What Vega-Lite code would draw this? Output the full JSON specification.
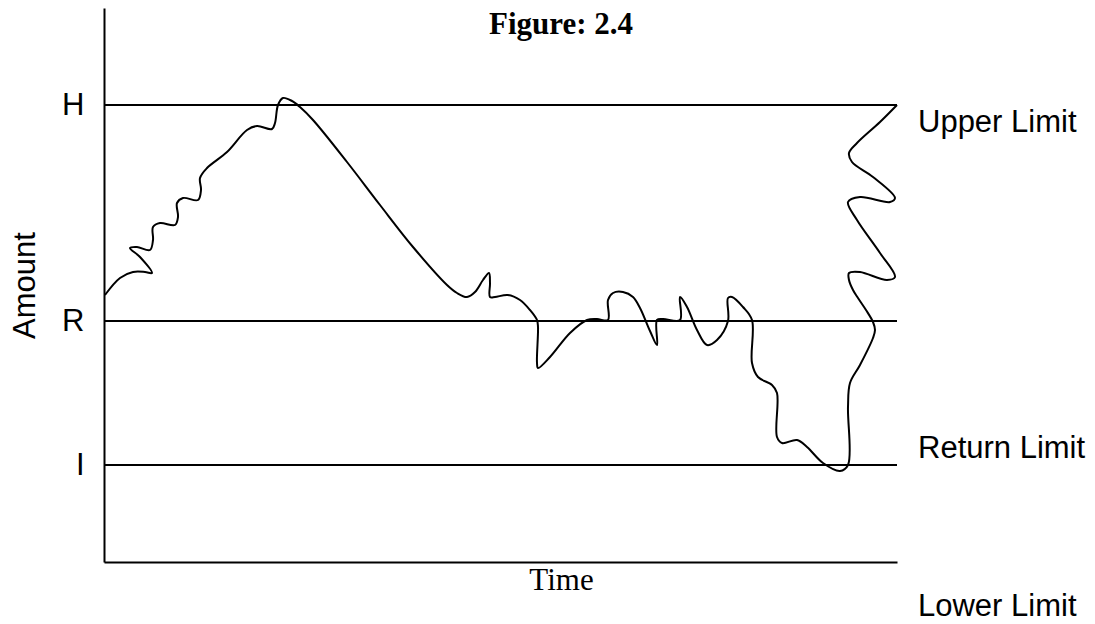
{
  "$schema": "https://vega.github.io/schema/vega-lite/v6.json",
  "width": 793,
  "height": 554,
  "autosize": {"type": "none"},
  "padding": {"left": 104, "top": 8, "right": 198, "bottom": 62},
  "background": "white",
  "config": {
    "view": {"stroke": null},
    "axis": {"domainColor": "black", "domainWidth": 2, "ticks": false, "tickSize": 0, "grid": false, "labelColor": "black", "titleColor": "black"}
  },
  "datasets": {
    "levels": [
      {"level": "H", "amount": 457},
      {"level": "R", "amount": 241},
      {"level": "I", "amount": 97}
    ],
    "curve": [
      {"step": 1, "time": 1, "amount": 267},
      {"step": 2, "time": 16, "amount": 284},
      {"step": 3, "time": 29, "amount": 290},
      {"step": 4, "time": 41, "amount": 290},
      {"step": 5, "time": 48, "amount": 289},
      {"step": 6, "time": 36, "amount": 305},
      {"step": 7, "time": 26, "amount": 314},
      {"step": 8, "time": 33, "amount": 315},
      {"step": 9, "time": 46, "amount": 312},
      {"step": 10, "time": 49, "amount": 322},
      {"step": 11, "time": 49, "amount": 335},
      {"step": 12, "time": 56, "amount": 339},
      {"step": 13, "time": 71, "amount": 337},
      {"step": 14, "time": 74, "amount": 345},
      {"step": 15, "time": 73, "amount": 359},
      {"step": 16, "time": 79, "amount": 364},
      {"step": 17, "time": 94, "amount": 362},
      {"step": 18, "time": 97, "amount": 372},
      {"step": 19, "time": 96, "amount": 384},
      {"step": 20, "time": 103, "amount": 394},
      {"step": 21, "time": 123, "amount": 410},
      {"step": 22, "time": 143, "amount": 432},
      {"step": 23, "time": 153, "amount": 436},
      {"step": 24, "time": 168, "amount": 433},
      {"step": 25, "time": 171, "amount": 439},
      {"step": 26, "time": 174, "amount": 457},
      {"step": 27, "time": 179, "amount": 464},
      {"step": 28, "time": 188, "amount": 461},
      {"step": 29, "time": 196, "amount": 455},
      {"step": 30, "time": 209, "amount": 442},
      {"step": 31, "time": 243, "amount": 400},
      {"step": 32, "time": 276, "amount": 357},
      {"step": 33, "time": 309, "amount": 315},
      {"step": 34, "time": 343, "amount": 277},
      {"step": 35, "time": 353, "amount": 269},
      {"step": 36, "time": 363, "amount": 265},
      {"step": 37, "time": 371, "amount": 270},
      {"step": 38, "time": 379, "amount": 282},
      {"step": 39, "time": 385, "amount": 289},
      {"step": 40, "time": 386, "amount": 279},
      {"step": 41, "time": 386, "amount": 265},
      {"step": 42, "time": 391, "amount": 265},
      {"step": 43, "time": 404, "amount": 267},
      {"step": 44, "time": 416, "amount": 262},
      {"step": 45, "time": 426, "amount": 252},
      {"step": 46, "time": 433, "amount": 242},
      {"step": 47, "time": 434, "amount": 235},
      {"step": 48, "time": 433, "amount": 199},
      {"step": 49, "time": 434, "amount": 194},
      {"step": 50, "time": 446, "amount": 205},
      {"step": 51, "time": 466, "amount": 229},
      {"step": 52, "time": 483, "amount": 242},
      {"step": 53, "time": 493, "amount": 243},
      {"step": 54, "time": 504, "amount": 242},
      {"step": 55, "time": 504, "amount": 262},
      {"step": 56, "time": 509, "amount": 269},
      {"step": 57, "time": 519, "amount": 270},
      {"step": 58, "time": 529, "amount": 265},
      {"step": 59, "time": 536, "amount": 254},
      {"step": 60, "time": 546, "amount": 231},
      {"step": 61, "time": 553, "amount": 217},
      {"step": 62, "time": 553, "amount": 242},
      {"step": 63, "time": 559, "amount": 243},
      {"step": 64, "time": 576, "amount": 242},
      {"step": 65, "time": 576, "amount": 265},
      {"step": 66, "time": 583, "amount": 255},
      {"step": 67, "time": 593, "amount": 232},
      {"step": 68, "time": 603, "amount": 217},
      {"step": 69, "time": 613, "amount": 222},
      {"step": 70, "time": 624, "amount": 241},
      {"step": 71, "time": 624, "amount": 264},
      {"step": 72, "time": 628, "amount": 265},
      {"step": 73, "time": 639, "amount": 255},
      {"step": 74, "time": 648, "amount": 242},
      {"step": 75, "time": 648, "amount": 199},
      {"step": 76, "time": 654, "amount": 185},
      {"step": 77, "time": 668, "amount": 177},
      {"step": 78, "time": 673, "amount": 169},
      {"step": 79, "time": 673, "amount": 125},
      {"step": 80, "time": 678, "amount": 119},
      {"step": 81, "time": 693, "amount": 122},
      {"step": 82, "time": 703, "amount": 115},
      {"step": 83, "time": 719, "amount": 99},
      {"step": 84, "time": 736, "amount": 91},
      {"step": 85, "time": 744, "amount": 97},
      {"step": 86, "time": 744, "amount": 155},
      {"step": 87, "time": 746, "amount": 179},
      {"step": 88, "time": 756, "amount": 197},
      {"step": 89, "time": 769, "amount": 224},
      {"step": 90, "time": 771, "amount": 232},
      {"step": 91, "time": 769, "amount": 240},
      {"step": 92, "time": 762, "amount": 252},
      {"step": 93, "time": 754, "amount": 264},
      {"step": 94, "time": 749, "amount": 272},
      {"step": 95, "time": 745, "amount": 282},
      {"step": 96, "time": 745, "amount": 289},
      {"step": 97, "time": 756, "amount": 290},
      {"step": 98, "time": 783, "amount": 282},
      {"step": 99, "time": 791, "amount": 285},
      {"step": 100, "time": 776, "amount": 309},
      {"step": 101, "time": 753, "amount": 342},
      {"step": 102, "time": 744, "amount": 360},
      {"step": 103, "time": 756, "amount": 365},
      {"step": 104, "time": 786, "amount": 360},
      {"step": 105, "time": 791, "amount": 364},
      {"step": 106, "time": 769, "amount": 385},
      {"step": 107, "time": 748, "amount": 400},
      {"step": 108, "time": 745, "amount": 409},
      {"step": 109, "time": 753, "amount": 419},
      {"step": 110, "time": 776, "amount": 440},
      {"step": 111, "time": 793, "amount": 457}
    ],
    "heading": [
      {"label": "Figure: 2.4", "time": 457, "amount": 528}
    ],
    "limits": [
      {"label": "Upper Limit", "time": 814, "amount": 430},
      {"label": "Return Limit", "time": 814, "amount": 104},
      {"label": "Lower Limit", "time": 814, "amount": -54}
    ]
  },
  "layer": [
    {
      "data": {"name": "levels"},
      "mark": {"type": "rule", "color": "black", "strokeWidth": 2},
      "encoding": {
        "y": {
          "field": "amount",
          "type": "quantitative",
          "scale": {"domain": [0, 554], "nice": false, "zero": false},
          "axis": {
            "values": [97, 241, 457],
            "labelExpr": "datum.value == 457 ? 'H' : (datum.value == 241 ? 'R' : 'I')",
            "labelFont": "Liberation Sans",
            "labelFontSize": 31,
            "labelPadding": 20,
            "title": "Amount",
            "titleFont": "Liberation Sans",
            "titleFontSize": 31,
            "titleFontWeight": "normal",
            "titleAngle": -90,
            "titleAlign": "center",
            "titleBaseline": "alphabetic",
            "titleX": -70,
            "titleY": 277
          }
        }
      }
    },
    {
      "data": {"name": "curve"},
      "mark": {"type": "line", "color": "black", "strokeWidth": 2, "interpolate": "catmull-rom"},
      "encoding": {
        "x": {
          "field": "time",
          "type": "quantitative",
          "scale": {"domain": [0, 793], "nice": false, "zero": false},
          "axis": {
            "labels": false,
            "title": "Time",
            "titleFont": "Liberation Serif",
            "titleFontSize": 31,
            "titleFontWeight": "normal",
            "titleAlign": "center",
            "titleBaseline": "alphabetic",
            "titleX": 457,
            "titleY": 27
          }
        },
        "y": {"field": "amount", "type": "quantitative", "title": "Amount"},
        "order": {"field": "step", "type": "quantitative"}
      }
    },
    {
      "data": {"name": "heading"},
      "mark": {"type": "text", "font": "Liberation Serif", "fontSize": 31, "fontWeight": "bold", "color": "black", "align": "center", "baseline": "alphabetic"},
      "encoding": {
        "x": {"field": "time", "type": "quantitative", "title": "Time"},
        "y": {"field": "amount", "type": "quantitative", "title": "Amount"},
        "text": {"field": "label"}
      }
    },
    {
      "data": {"name": "limits"},
      "mark": {"type": "text", "font": "Liberation Sans", "fontSize": 31, "color": "black", "align": "left", "baseline": "alphabetic"},
      "encoding": {
        "x": {"field": "time", "type": "quantitative", "title": "Time"},
        "y": {"field": "amount", "type": "quantitative", "title": "Amount"},
        "text": {"field": "label"}
      }
    }
  ]
}
